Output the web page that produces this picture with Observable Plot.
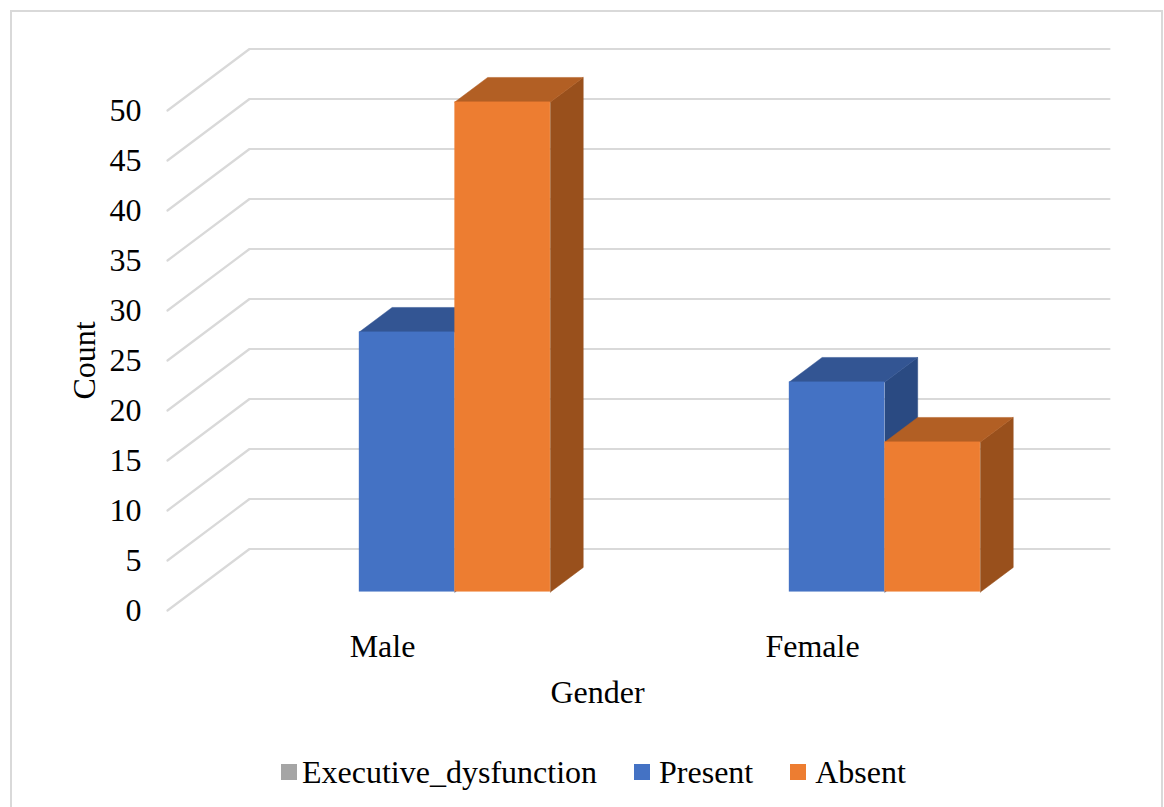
<!DOCTYPE html>
<html>
<head>
<meta charset="utf-8">
<script src="https://cdn.jsdelivr.net/npm/d3@7"></script>
<script src="https://cdn.jsdelivr.net/npm/@observablehq/plot@0.6"></script>
<style>
  html, body { margin: 0; background: #fff; overflow: hidden; }
  #frame { position: relative; width: 1164px; height: 807px; overflow: hidden; font-family: "Liberation Serif", serif; color: #000; }
  #border { position: absolute; left: 10px; top: 10px; width: 1153px; height: 830px; border: 2px solid #d9d9d9; box-sizing: border-box; }
  #chart { position: absolute; left: 0; top: 0; }
  #chart svg { display: block; background: transparent; }
  #legend { position: absolute; left: 281px; top: 751px; height: 42px; display: flex; align-items: center; font-size: 32px; line-height: 42px; white-space: nowrap; }
  .item { display: flex; align-items: center; margin-right: 37px; }
  .item:last-child { margin-right: 0; }
  .swatch { width: 16px; height: 16px; margin-right: 9px; }
  .item:first-child .swatch { margin-right: 5px; }
</style>
</head>
<body>
<div id="frame">
  <div id="border"></div>
  <div id="chart"></div>
  <div id="legend"></div>
</div>
<script>
// Chart values
const categories = ["Male", "Female"];
const seriesNames = ["Executive_dysfunction", "Present", "Absent"];
const executiveValues = [];
const presentValues = [26, 21];
const absentValues = [49, 15];
const yTicks = [0, 5, 10, 15, 20, 25, 30, 35, 40, 45, 50];

// Face colours per series
const frontColors = ["#a5a5a5", "#4472c4", "#ed7d31"];
const topColors = ["#7c7c7c", "#335593", "#b25f24"];
const sideColors = ["#636363", "#2a4a82", "#99501c"];

// Oblique projection of the chart box: x in category units, y in count units
const wallX = 82 / 430;
const wallY = 6.15;
const barWidth = 1 / 4.5;
const depthStart = 0.3;
const depthSize = 0.4;

const seriesValues = [executiveValues, presentValues, absentValues];

// Side wall, back wall: one polyline per count tick
const gridRows = yTicks.flatMap((v) => [
  {v, x: 0, y: v},
  {v, x: wallX, y: v + wallY},
  {v, x: categories.length + wallX, y: v + wallY}
]);

// Three faces for each bar, drawn back to front by series
const barMarks = seriesValues.flatMap((values, s) =>
  values.flatMap((value, c) => {
    const x1 = c + 0.75 * barWidth + s * barWidth + depthStart * wallX;
    const x2 = x1 + barWidth;
    const y1 = depthStart * wallY;
    const y2 = value + y1;
    const dx = depthSize * wallX;
    const dy = depthSize * wallY;
    const side = [[x2, y1], [x2 + dx, y1 + dy], [x2 + dx, y2 + dy], [x2, y2], [x2, y1]];
    const top = [[x1, y2], [x1 + dx, y2 + dy], [x2 + dx, y2 + dy], [x2, y2], [x1, y2]];
    const face = (points, fill) => Plot.line(points, {
      x: (d) => d[0], y: (d) => d[1], fill, stroke: fill, strokeWidth: 0.5
    });
    return [
      face(side, sideColors[s]),
      face(top, topColors[s]),
      Plot.rect([{x1, x2, y1, y2}], {
        x1: "x1", x2: "x2", y1: "y1", y2: "y2",
        fill: frontColors[s]
      })
    ];
  })
);

const chart = Plot.plot({
  width: 1164,
  height: 745,
  marginLeft: 167,
  marginRight: 55,
  marginTop: 48.5,
  marginBottom: 135,
  style: {fontFamily: "'Liberation Serif', serif", fontSize: "32px", color: "#000", background: "transparent"},
  x: {domain: [0, categories.length + wallX], axis: null},
  y: {domain: [0, 50 + wallY], axis: null},
  marks: [
    Plot.line(gridRows, {x: "x", y: "y", z: "v", stroke: "#d9d9d9", strokeWidth: 2.2}),
    ...barMarks,
    Plot.axisY({ticks: yTicks, tickSize: 0, tickPadding: 26, fontSize: 32, label: null, tickFormat: (d) => d}),
    Plot.text(categories, {x: (d, i) => i + 0.5, y: () => 0, dy: 36, fontSize: 32, fill: "#000"}),
    Plot.text(["Gender"], {x: () => 1, y: () => 0, dy: 82, fontSize: 32, fill: "#000"}),
    Plot.text(["Count"], {x: () => 0, y: () => 25, dx: -83, rotate: -90, fontSize: 32, fill: "#000"})
  ]
});
document.getElementById("chart").appendChild(chart);

// Legend row below the plot
const legend = d3.select("#legend");
seriesNames.forEach((name, i) => {
  const item = legend.append("div").attr("class", "item");
  item.append("div").attr("class", "swatch").style("background", frontColors[i]);
  item.append("span").text(name);
});
</script>
</body>
</html>
